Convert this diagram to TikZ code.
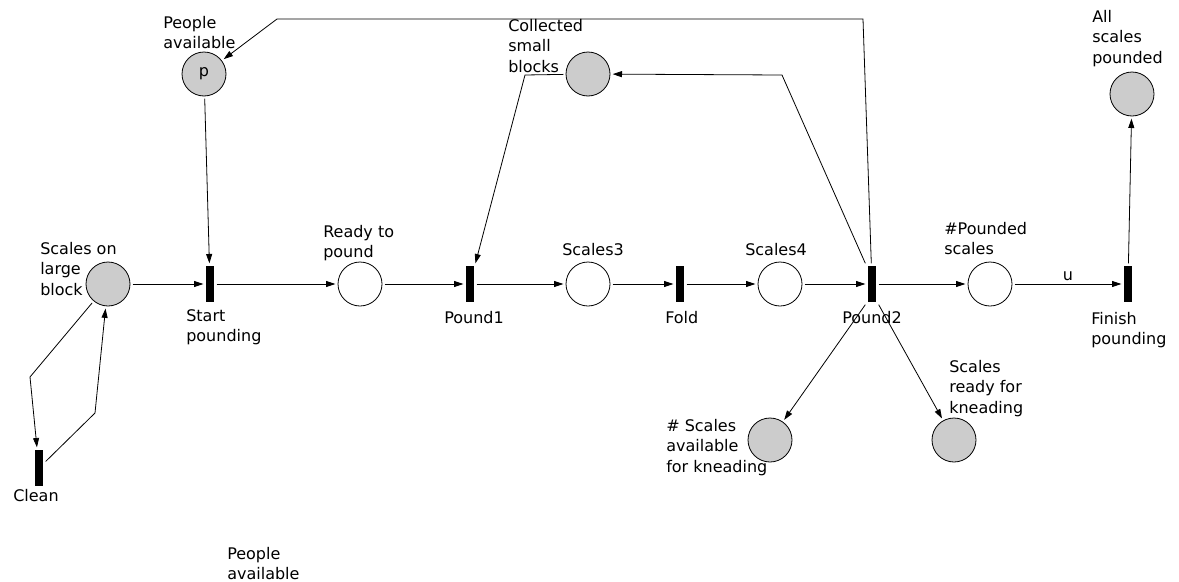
\documentclass[tikz,border=0pt]{standalone}
\usepackage{fontspec}
\setmainfont{DejaVu Sans}
\usepackage{tikz}
\usetikzlibrary{positioning, arrows.meta, calc}
\definecolor{tokgray}{HTML}{CCCCCC}

\begin{document}
\begin{tikzpicture}[x=0.75pt, y=-0.75pt, >={Triangle[length=7pt,width=4.5pt]},
		font=\fontsize{12}{15.4}\selectfont,
		place/.style={circle, draw, line width=0.6pt, minimum size=33pt, inner sep=0pt, outer sep=2pt},
		full/.style={place, fill=tokgray},
		trans/.style={rectangle, fill=black, minimum width=6pt, minimum height=27pt, inner sep=0pt, outer sep=2pt},
		arc/.style={->, line width=0.6pt},
		lbl/.style={anchor=north west, align=left, inner sep=0pt}]
		
		\useasboundingbox (0,0) rectangle (1179,582);
		
		% Draw places
		\node[full] (large) at (108,284) {};
		\node[full] (people) at (204,74) {p};
		\node[place] (ready) at (360,284) {};
		\node[place] (scales3) at (588,284) {};
		\node[place] (scales4) at (780,284) {};
		\node[place] (pounded) at (990,284) {};
		\node[full] (collected) at (588,74) {};
		\node[full] (allpounded) at (1132,94) {};
		\node[full] (kavail) at (770,440) {};
		\node[full] (kready) at (954,440) {};
		
		% Draw transitions
		\node[trans] (start) at (210,284) {};
		\node[trans] (pound1) at (470,284) {};
		\node[trans] (fold) at (680,284) {};
		\node[trans] (pound2) at (872,284) {};
		\node[trans] (finish) at (1128,284) {};
		\node[trans] (clean) at (39,468) {};
		
		% Add labels
		\node[lbl] (peopleTxt) at (163,16) {People\\available};
		\node[lbl] (largeTxt) at (40,242) {Scales on\\large\\block};
		\node[lbl] (startTxt) at (186,309) {Start\\pounding};
		\node[lbl] (readyTxt) at (323,225) {Ready to\\pound};
		\node[lbl] (collectedTxt) at (508,19) {Collected\\small\\blocks};
		\node[lbl] (scales3Txt) at (562,243) {Scales3};
		\node[lbl] (scales4Txt) at (745,243) {Scales4};
		\node[lbl] (pound1Txt) at (444,311) {Pound1};
		\node[lbl] (foldTxt) at (665,311) {Fold};
		\node[lbl] (pound2Txt) at (842,311) {Pound2};
		\node[lbl] (poundedTxt) at (944,222) {\#Pounded\\scales};
		\node[lbl] (finishTxt) at (1091,312) {Finish\\pounding};
		\node[lbl] (allTxt) at (1092,10) {All\\scales\\pounded};
		\node[lbl] (kavailTxt) at (666,419) {\# Scales\\available\\for kneading};
		\node[lbl] (kreadyTxt) at (949,360) {Scales\\ready for\\kneading};
		\node[lbl] (cleanTxt) at (13,489) {Clean};
		\node[lbl] (people2Txt) at (227,547) {People\\available};
		
		% Bend points
		\coordinate (c1) at (30,377);
		\coordinate (c2) at (95,413);
		\coordinate (t1) at (863,19);
		\coordinate (t2) at (277,19);
		\coordinate (t3) at (782,75);
		\coordinate (t4) at (525,75);
		
		% Draw arcs
		\draw[arc] (large) -- (start);
		\draw[arc] (people) -- (start);
		\draw[arc] (start) -- (ready);
		\draw[arc] (ready) -- (pound1);
		\draw[arc] (pound1) -- (scales3);
		\draw[arc] (scales3) -- (fold);
		\draw[arc] (fold) -- (scales4);
		\draw[arc] (scales4) -- (pound2);
		\draw[arc] (pound2) -- (pounded);
		\draw[arc] (pounded) -- node[above, inner sep=2pt] (uTxt) {u} (finish);
		\draw[arc] (finish) -- (allpounded);
		
		\draw[arc] (large) -- (c1) -- (clean);
		\draw[arc] (clean) -- (c2) -- (large);
		
		\draw[arc] (pound2) -- (t1) -- (t2) -- (people);
		\draw[arc] (pound2.north west) -- (t3) -- (collected);
		\draw[arc] (collected) -- (t4) -- (pound1);
		
		\draw[arc] (pound2.south west) -- (kavail);
		\draw[arc] (pound2.south east) -- (kready);

	\end{tikzpicture}
\end{document}
